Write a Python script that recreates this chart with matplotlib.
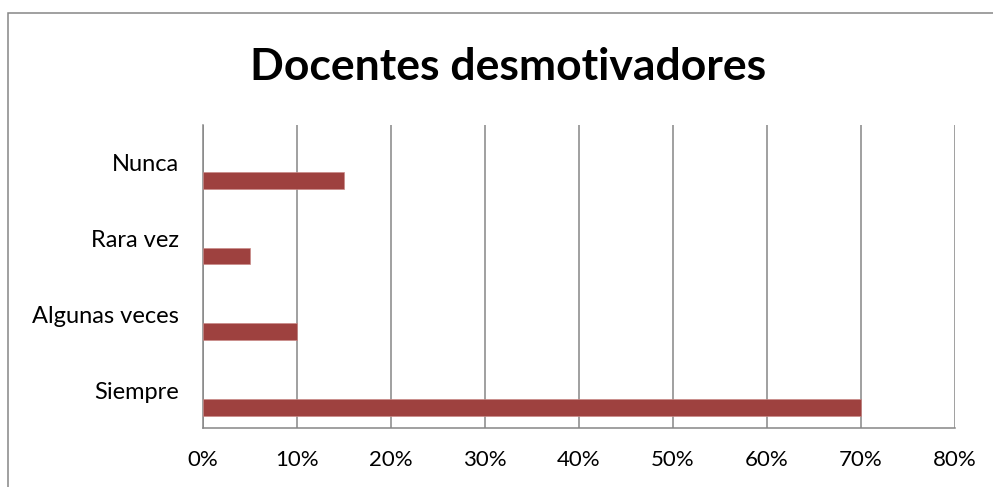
import matplotlib.pyplot as plt
from matplotlib.patches import Rectangle
from matplotlib.ticker import FuncFormatter

categories = ["Siempre", "Algunas veces", "Rara vez", "Nunca"]
values = [0.70, 0.10, 0.05, 0.15]
xticks = [0, 0.1, 0.2, 0.3, 0.4, 0.5, 0.6, 0.7, 0.8]

plt.rcParams['font.family'] = ['Lato', 'DejaVu Sans']

fig = plt.figure(figsize=(9.93, 4.87), dpi=100)
ax = fig.add_axes([0.2044, 0.1211, 0.7573, 0.6222])

pos = range(len(categories))
ax.barh([p - 0.23 for p in pos], values, height=0.22, color='#9E413F',
        edgecolor='#C98A88', linewidth=0.5, zorder=3)

ax.set_xlim(0, 0.8)
ax.set_ylim(-0.5, 3.5)
ax.set_xticks(xticks)
ax.xaxis.set_major_formatter(FuncFormatter(lambda v, _: f"{v*100:.0f}%"))
ax.set_yticks(list(pos))
ax.set_yticklabels(categories)
ax.tick_params(axis='x', length=0, labelsize=16, colors='black', pad=16)
ax.tick_params(axis='y', length=0, labelsize=17, colors='black', pad=17)

ax.grid(axis='x', color='#868686', linewidth=1.1, zorder=0)
ax.set_axisbelow(True)
for s in ['top', 'right']:
    ax.spines[s].set_visible(False)
for s in ['left', 'bottom']:
    ax.spines[s].set_color('#868686')
    ax.spines[s].set_linewidth(1.1)

fig.text(0.5116, 0.862, "Docentes desmotivadores", ha='center', va='center',
         fontsize=32, fontweight='bold')

fig.patches.append(Rectangle((8 / 993, -0.5), 2.0, 1.5 - 13 / 487,
                             transform=fig.transFigure, fill=False,
                             edgecolor='#868686', linewidth=1.1))

fig.savefig("out.png", dpi=100)
